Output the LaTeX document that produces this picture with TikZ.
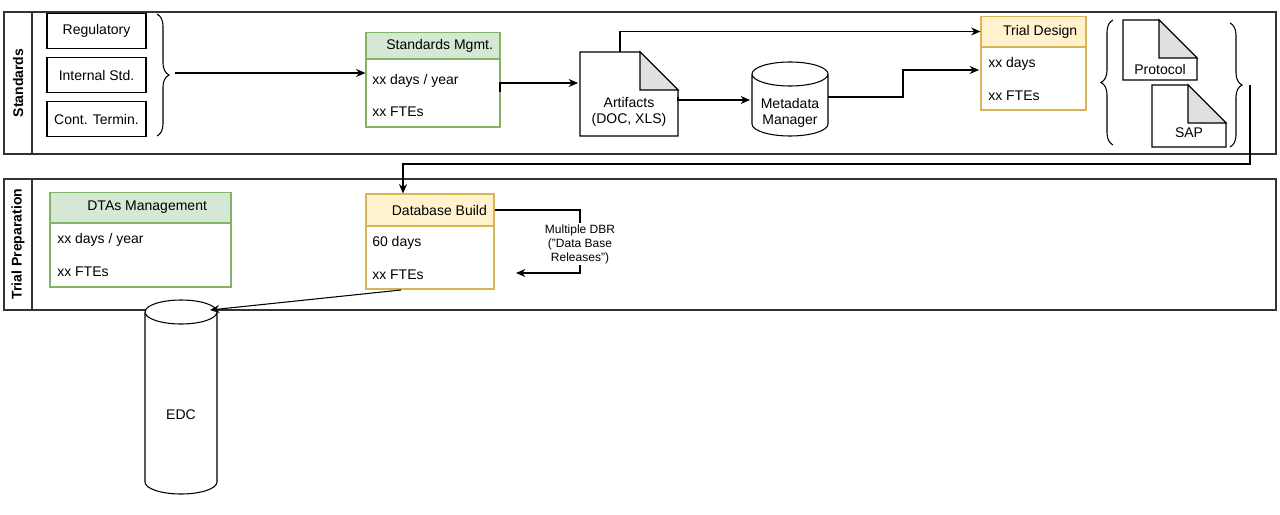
\documentclass[tikz,border=0pt]{standalone}
\usepackage{fontspec}
\setmainfont{Liberation Sans}
\usetikzlibrary{positioning,decorations.pathreplacing,arrows.meta}
\definecolor{hdrgreen}{HTML}{D5E8D4}
\definecolor{bdrgreen}{HTML}{82B366}
\definecolor{hdryellow}{HTML}{FFF2CC}
\definecolor{bdryellow}{HTML}{D6B656}
\begin{document}
\begin{tikzpicture}[x=0.75pt,y=-0.75pt,font=\fontsize{10.5}{12.5}\selectfont,
	box/.style={draw,thick,minimum width=74.25pt,minimum height=26pt,inner sep=0pt},
	ghead/.style={draw=bdrgreen,thick,fill=hdrgreen,inner sep=0pt,minimum height=20pt},
	yhead/.style={draw=bdryellow,thick,fill=hdryellow,inner sep=0pt,minimum height=22pt},
	row/.style={anchor=west,inner sep=0pt},
	pool/.style={draw=black!80,thick},
	link/.style={thick,-{Stealth[length=7pt,width=6pt]}},
	brc/.style={thick,decorate,decoration={brace,amplitude=9pt}}]
	\newcommand\Doc[3]{(#1,#2) -- ++(#3-38,0) -- ++(38,38) |- (#1,#2+\docH) -- cycle}
	\newcommand\Fold[2]{[fill=black!12] (#1-38,#2) -- ++(0,38) -- ++(38,0) -- cycle}
	\newcommand\Cyl[4]{(#1,#2) -- (#1,#4) arc[start angle=180,end angle=0,x radius=#3/2,y radius=12] -- (#1+#3,#2) (#1+#3/2,#2) ellipse[x radius=#3/2,y radius=12]}
	\useasboundingbox (0,0) rectangle (1280,514);

	% pools
	\draw[pool] (4,12) rectangle (1276,154) (32,12) -- (32,154);
	\draw[pool] (4,179) rectangle (1276,310) (32,179) -- (32,310);
	\node[rotate=90,font=\fontsize{10.5}{12.5}\selectfont\bfseries] (lstd) at (18,83) {Standards};
	\node[rotate=90,font=\fontsize{10.5}{12.5}\selectfont\bfseries] (ltrial) at (18,244) {Trial Preparation};

	% inputs
	\node[box] (reg) at (96.5,31) {Regulatory};
	\node[box] (int) at (96.5,75) {Internal Std.};
	\node[box] (cont) at (96.5,119) {Cont. Termin.};
	\draw[brc] (157,14) -- (157,136);
	\coordinate (brtip) at (175,73);

	% standards management
	\node[ghead,minimum width=100.5pt] (smgmt) at (433,46) {\hspace{10pt}Standards Mgmt.};
	\draw[draw=bdrgreen,thick] (366,59) rectangle (500,127);
	\node[row] (sdays) at (372,81) {xx days / year};
	\node[row] (sftes) at (372,112) {xx FTEs};
	\coordinate (sout) at (500,92);

	% artifacts and metadata
	\def\docH{84}
	\draw[thick,fill=white] \Doc{580}{52}{98};
	\draw[thick] \Fold{678}{52};
	\node[align=center,inner sep=0pt] (art) at (629,112) {Artifacts\\(DOC, XLS)};
	\draw[thick,fill=white] \Cyl{752}{74}{76}{124};
	\node[align=center,inner sep=0pt] (meta) at (790,113) {Metadata\\Manager};

	% trial design
	\node[yhead,minimum width=78.75pt,minimum height=23pt] (tdes) at (1033.5,31.5) {\hspace{10pt}Trial Design};
	\draw[draw=bdryellow,thick] (981,47) rectangle (1086,110);
	\node[row] (tdays) at (988,64) {xx days};
	\node[row] (tftes) at (988,96) {xx FTEs};

	% protocol and sap
	\draw[brc] (1113,145) -- (1113,20);
	\def\docH{60}
	\draw[thick,fill=white] \Doc{1123}{20}{74};
	\draw[thick] \Fold{1197}{20};
	\node (prot) at (1160,69) {Protocol};
	\def\docH{62}
	\draw[thick,fill=white] \Doc{1152}{85}{74};
	\draw[thick] \Fold{1226}{85};
	\node (sap) at (1189,133) {SAP};
	\draw[brc] (1230,23) -- (1230,147);
	\coordinate (pbr) at (1250,85);

	% database build
	\node[yhead,minimum width=96pt,minimum height=24pt] (dbb) at (430,210) {\hspace{14pt}Database Build};
	\draw[draw=bdryellow,thick] (366,226) rectangle (494,289);
	\node[row] (ddays) at (372,243) {60 days};
	\node[row] (dftes) at (372,275) {xx FTEs};
	\node[align=center,fill=white,inner sep=1pt,font=\fontsize{9}{10.5}\selectfont] (dbr) at (580,244) {Multiple DBR\\(''Data Base\\Releases'')};

	% dtas management
	\node[ghead,minimum width=135.75pt,minimum height=23pt] (dtas) at (140.5,207.5) {\hspace{10pt}DTAs Management};
	\draw[draw=bdrgreen,thick] (50,223) rectangle (231,287);
	\node[row] (tadays) at (57,240) {xx days / year};
	\node[row] (taftes) at (57,272) {xx FTEs};

	% edc
	\draw[thick,fill=white] \Cyl{145}{312}{72}{482};
	\node (edc) at (181,415) {EDC};

	% connectors
	\draw[link] (brtip) -- (smgmt.west |- brtip);
	\draw[link] (sout) |- (578,83);
	\draw[link] (620,52) |- (tdes.west);
	\draw[link] (678,97) |- (750,100);
	\draw[link] (828,97) -| (903,70) -- (979,70);
	\draw[link] (pbr) |- (403,164) -- (dbb.north -| 403,0);
	\draw[thick] (dbb.east) -| (dbr.north);
	\draw[link] (dbr.south) |- (516,273);
	\draw[link] (401,290) -- (210,310);
\end{tikzpicture}
\end{document}
